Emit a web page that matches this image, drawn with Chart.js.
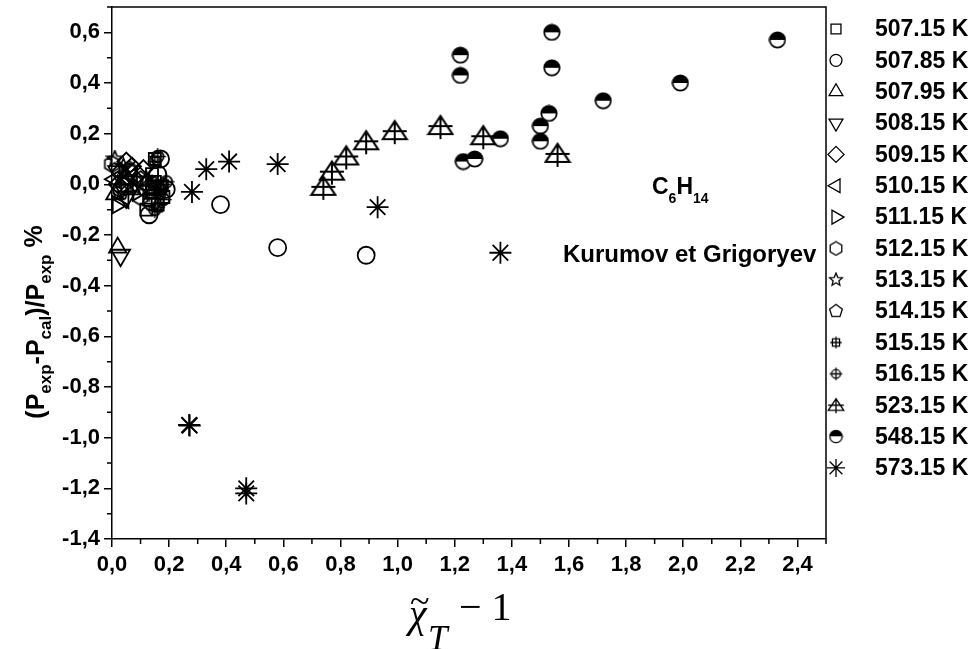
<!DOCTYPE html>
<html>
<head>
<meta charset="utf-8">
<script src="https://cdn.jsdelivr.net/npm/chart.js@4.4.0/dist/chart.umd.min.js"></script>
<style>
  html, body { margin: 0; padding: 0; background: #fff; }
  #wrap { width: 979px; height: 649px; }
</style>
</head>
<body>
<div id="wrap"><canvas id="chart"></canvas></div>
<script>
// series labels (temperatures)
const temps = ['507.15 K', '507.85 K', '507.95 K', '508.15 K', '509.15 K', '510.15 K',
  '511.15 K', '512.15 K', '513.15 K', '514.15 K', '515.15 K', '516.15 K',
  '523.15 K', '548.15 K', '573.15 K'];

// [x, y] pairs
const t507_15 = [[0.12, -0.10], [0.13, -0.06], [0.14, -0.03], [0.15, 0.10], [0.16, -0.08], [0.17, -0.01], [0.15, 0.01], [0.18, -0.05], [0.14, 0.04]];
const t507_85 = [[0.38, -0.08], [0.58, -0.25], [0.89, -0.28], [0.13, -0.12], [0.17, 0.10], [0.19, -0.02], [0.16, 0.04], [0.14, -0.07]];
const t507_95 = [[0.02, -0.25], [0.01, -0.04], [0.04, 0.02], [0.07, -0.02]];
const t508_15 = [[0.03, -0.28], [0.02, 0.05], [0.05, -0.05], [0.08, 0.01]];
const t509_15 = [[0.05, 0.09], [0.07, 0.07], [0.03, 0.05], [0.09, 0.04], [0.02, 0.00], [0.11, 0.06]];
const t510_15 = [[0.01, 0.02], [0.04, -0.06], [0.07, 0.03]];
const t511_15 = [[0.02, -0.08], [0.05, 0.00], [0.09, -0.03]];
const t512_15 = [[0.00, 0.08], [0.03, -0.02], [0.06, 0.05], [0.10, -0.05]];
const t513_15 = [[0.01, 0.10], [0.04, 0.07], [0.08, -0.01], [0.12, 0.02]];
const t514_15 = [[0.03, -0.03], [0.06, 0.06], [0.10, 0.02], [0.13, -0.01]];
const t515_15 = [[0.15, 0.09], [0.13, -0.04], [0.16, -0.09], [0.14, 0.01], [0.18, 0.00], [0.17, -0.04]];
const t516_15 = [[0.17, -0.02], [0.15, -0.10], [0.19, 0.01], [0.16, 0.11], [0.18, -0.06], [0.14, -0.02]];
const t523_15 = [[0.74, -0.01], [0.77, 0.05], [0.82, 0.11], [0.89, 0.17], [0.99, 0.21], [1.15, 0.23], [1.30, 0.19], [1.56, 0.12]];
const t548_15 = [[1.22, 0.51], [1.22, 0.43], [1.23, 0.09], [1.27, 0.10], [1.36, 0.18], [1.50, 0.23], [1.50, 0.17], [1.53, 0.28], [1.54, 0.60], [1.54, 0.46], [1.72, 0.33], [1.99, 0.40], [2.33, 0.57]];
const t573_15 = [[0.27, -0.95], [0.272, -0.952], [0.47, -1.20], [0.47, -1.22], [0.28, -0.03], [0.33, 0.06], [0.41, 0.09], [0.58, 0.08], [0.93, -0.09], [1.36, -0.27]];

const series = [t507_15, t507_85, t507_95, t508_15, t509_15, t510_15, t511_15, t512_15,
  t513_15, t514_15, t515_15, t516_15, t523_15, t548_15, t573_15];

// hollow marker glyphs that chart.js has no built-in style for
function glyph(kind, s, lw) {
  const c = document.createElement('canvas');
  c.width = s; c.height = s;
  const g = c.getContext('2d');
  const m = s / 2, r = s / 2 - 1.3;
  g.lineWidth = lw;
  g.strokeStyle = '#000';
  g.fillStyle = '#000';
  g.beginPath();
  if (kind === 'hexagon' || kind === 'pentagon') {
    const n = kind === 'hexagon' ? 6 : 5;
    for (let i = 0; i < n; i++) {
      const a = -Math.PI / 2 + i * 2 * Math.PI / n;
      g.lineTo(m + r * Math.cos(a), m + r * Math.sin(a));
    }
    g.closePath();
  } else if (kind === 'star5') {
    for (let i = 0; i < 10; i++) {
      const a = -Math.PI / 2 + i * Math.PI / 5;
      const rr = i % 2 ? r * 0.45 : r;
      g.lineTo(m + rr * Math.cos(a), m + rr * Math.sin(a));
    }
    g.closePath();
  } else if (kind === 'squarePlus') {
    const h = r * 0.62;
    g.rect(m - h, m - h, 2 * h, 2 * h);
    g.moveTo(m - r, m); g.lineTo(m + r, m);
    g.moveTo(m, m - r); g.lineTo(m, m + r);
  } else if (kind === 'circlePlus') {
    g.arc(m, m, r * 0.72, 0, 2 * Math.PI);
    g.moveTo(m - r, m); g.lineTo(m + r, m);
    g.moveTo(m, m - r); g.lineTo(m, m + r);
  } else if (kind === 'triCross') {
    const hw = s * 0.43;
    g.moveTo(m, m - s * 0.36); g.lineTo(m - hw, m + s * 0.29); g.lineTo(m + hw, m + s * 0.29); g.closePath();
    g.moveTo(m, m - s * 0.36); g.lineTo(m, m + s * 0.5 - 1);
    g.moveTo(m - hw, m); g.lineTo(m + hw, m);
  } else if (kind === 'half') {
    g.arc(m, m, r, Math.PI, 2 * Math.PI); g.closePath(); g.fill();
    g.beginPath(); g.arc(m, m, r, 0, Math.PI); g.closePath();
    g.fillStyle = '#fff'; g.fill();
    g.beginPath(); g.arc(m, m, r, 0, 2 * Math.PI);
  }
  g.stroke();
  return c;
}

// style, rotation, plot radius, legend style, legend radius
const styles = [
  ['rect', 0, 8.5, 'rect', 7],
  ['circle', 0, 8.5, 'circle', 6],
  ['triangle', 0, 10, 'triangle', 8],
  ['triangle', 180, 11, 'triangle', 8],
  ['rectRot', 0, 9, 'rectRot', 8],
  ['triangle', -90, 10, 'triangle', 8],
  ['triangle', 90, 10, 'triangle', 8],
  [glyph('hexagon', 19, 1.7), 0, 9, glyph('hexagon', 16, 1.3), 8],
  [glyph('star5', 19, 1.7), 0, 9, glyph('star5', 16, 1.3), 8],
  [glyph('pentagon', 19, 1.7), 0, 9, glyph('pentagon', 16, 1.3), 8],
  [glyph('squarePlus', 17, 1.7), 0, 8, glyph('squarePlus', 14, 1.3), 7],
  [glyph('circlePlus', 19, 1.7), 0, 9, glyph('circlePlus', 15, 1.3), 7],
  [glyph('triCross', 28, 2), 0, 12, glyph('triCross', 18, 1.3), 8],
  [glyph('half', 18, 1.8), 0, 9, glyph('half', 15, 1.3), 7],
  ['star', 0, 11, 'star', 9]
];

const datasets = series.map((pts, i) => ({
  label: temps[i],
  data: pts.map(p => ({x: p[0], y: p[1]})),
  pointStyle: styles[i][0],
  pointRotation: styles[i][1],
  pointRadius: styles[i][2],
  legendStyle: styles[i][3],
  legendRadius: styles[i][4],
  borderColor: '#000',
  backgroundColor: 'rgba(0,0,0,0)',
  pointBorderWidth: 1.8,
  showLine: false,
  clip: false
}));

const fmt = v => (Math.abs(v) < 1e-9 ? 0 : v).toFixed(1).replace('.', ',');
const keepMajor = scale => {
  scale.ticks = scale.ticks.filter(t => Math.abs(t.value / 0.2 - Math.round(t.value / 0.2)) < 1e-6);
};
const noPad = s => { s.paddingTop = 0; s.paddingBottom = 0; s.paddingLeft = 0; s.paddingRight = 0; };

// draw a run of text pieces [text, font, dy] left to right
function drawRun(ctx, pieces, x, y) {
  pieces.forEach(p => {
    ctx.font = p[1];
    ctx.fillText(p[0], x, y + p[2]);
    x += ctx.measureText(p[0]).width;
  });
}
function runWidth(ctx, pieces) {
  let w = 0;
  pieces.forEach(p => { ctx.font = p[1]; w += ctx.measureText(p[0]).width; });
  return w;
}

const SANS = "'Liberation Sans', Arial, sans-serif";
const SERIF = "'Liberation Serif', 'Times New Roman', serif";

const decor = {
  id: 'decor',
  afterDraw(chart) {
    const {ctx, chartArea: a, scales: {x, y}} = chart;
    ctx.save();
    ctx.strokeStyle = '#000';
    ctx.fillStyle = '#000';
    ctx.lineWidth = 1.5;
    ctx.beginPath();
    ctx.moveTo(a.left, a.top); ctx.lineTo(a.right, a.top); ctx.lineTo(a.right, a.bottom);
    ctx.stroke();

    // minor ticks
    ctx.beginPath();
    for (let v = 0.1; v < 2.55; v += 0.2) {
      const px = x.getPixelForValue(v);
      ctx.moveTo(px, a.bottom); ctx.lineTo(px, a.bottom + 5);
    }
    for (let v = -1.3; v < 0.75; v += 0.2) {
      const py = y.getPixelForValue(v);
      ctx.moveTo(a.left, py); ctx.lineTo(a.left - 5, py);
    }
    ctx.stroke();

    // legend
    ctx.textBaseline = 'middle';
    chart.data.datasets.forEach((ds, i) => {
      const yy = 29 + i * 31.35;
      ctx.fillStyle = 'rgba(0,0,0,0)';
      ctx.strokeStyle = '#000';
      ctx.lineWidth = 1.3;
      Chart.helpers.drawPoint(ctx, {pointStyle: ds.legendStyle, rotation: ds.pointRotation || 0,
        radius: ds.legendRadius, borderWidth: 1.3}, 836, yy);
      ctx.fillStyle = '#000';
      ctx.font = 'bold 23px ' + SANS;
      ctx.fillText(ds.label, 875, yy + 1);
    });

    // annotations
    ctx.textBaseline = 'alphabetic';
    const big = 'bold 23px ' + SANS, sub = 'bold 14px ' + SANS;
    drawRun(ctx, [['C', big, 0], ['6', sub, 9], ['H', big, 0], ['14', sub, 9]], 652, 194);
    ctx.font = 'bold 24px ' + SANS;
    ctx.fillText('Kurumov et Grigoryev', 563, 262);

    // y title, rotated
    const yt = 'bold 25px ' + SANS, ys = 'bold 17px ' + SANS;
    const yPieces = [['(P', yt, 0], ['exp', ys, 7], ['-P', yt, 0], ['cal', ys, 7], [')/P', yt, 0], ['exp', ys, 7], [' %', yt, -2]];
    const w = runWidth(ctx, yPieces);
    ctx.save();
    ctx.translate(44, 322 + w / 2);
    ctx.rotate(-Math.PI / 2);
    drawRun(ctx, yPieces, 0, 0);
    ctx.restore();

    // x title
    ctx.font = 'italic 40px ' + SERIF;
    ctx.fillText('\u03C7', 409, 627);
    ctx.font = '36px ' + SERIF;
    ctx.fillText('~', 410, 613);
    ctx.font = 'italic 35px ' + SERIF;
    ctx.fillText('T', 428, 650);
    ctx.font = '40px ' + SERIF;
    ctx.fillText('\u2212 1', 459, 620);
    ctx.restore();
  }
};

Chart.defaults.font.family = SANS;
Chart.defaults.color = '#000';

new Chart(document.getElementById('chart'), {
  type: 'scatter',
  data: {datasets},
  options: {
    responsive: true,
    maintainAspectRatio: false,
    animation: false,
    events: [],
    layout: {autoPadding: false, padding: {top: 7, right: 153, left: 0, bottom: 0}},
    plugins: {legend: {display: false}, tooltip: {enabled: false}},
    scales: {
      x: {
        type: 'linear',
        min: 0, max: 2.5,
        afterBuildTicks: keepMajor,
        afterFit: s => { s.height = 110; noPad(s); },
        ticks: {stepSize: 0.2, includeBounds: false, callback: fmt, padding: 5, maxRotation: 0,
          autoSkip: false, font: {size: 22, weight: 'bold'}},
        grid: {drawOnChartArea: false, tickLength: 8, color: '#000', lineWidth: 1.5},
        border: {color: '#000', width: 1.5}
      },
      y: {
        type: 'linear',
        min: -1.4, max: 0.7,
        afterBuildTicks: keepMajor,
        afterFit: s => { s.width = 112; noPad(s); },
        ticks: {stepSize: 0.2, callback: fmt, padding: 4,
          autoSkip: false, font: {size: 22, weight: 'bold'}},
        grid: {drawOnChartArea: false, tickLength: 8, color: '#000', lineWidth: 1.5},
        border: {color: '#000', width: 1.5}
      }
    }
  },
  plugins: [decor]
});
</script>
</body>
</html>
